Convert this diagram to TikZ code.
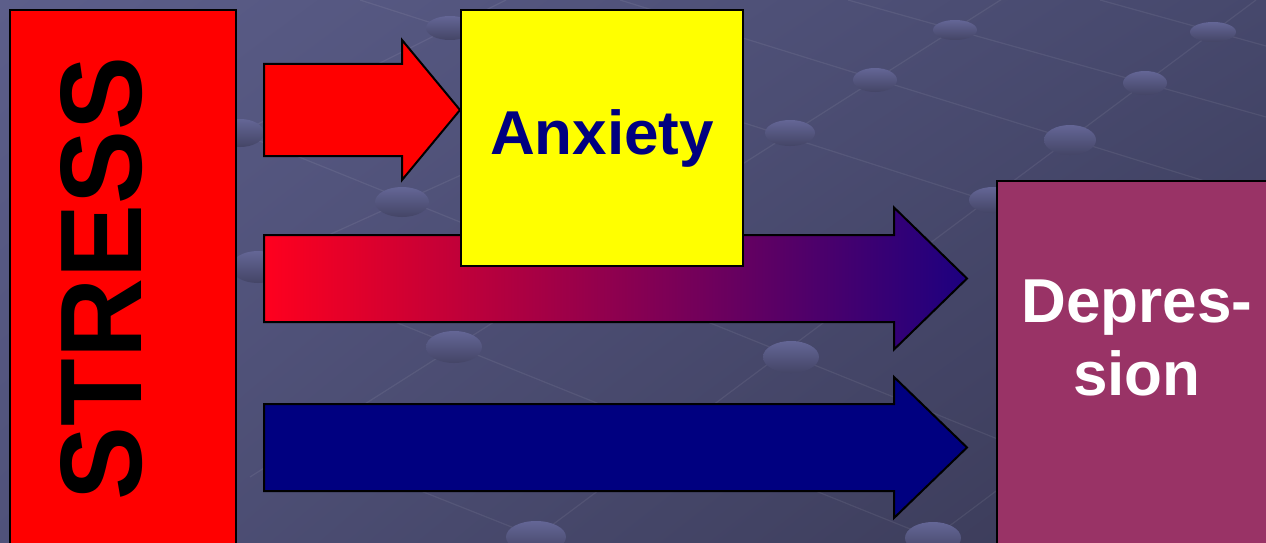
\documentclass[tikz,border=0pt]{standalone}
\usepackage{fontspec}
\setmainfont{Liberation Sans}
\usepackage{tikz}
\usetikzlibrary{positioning,calc,shadings}
\definecolor{bgTL}{RGB}{92,94,138}
\definecolor{bgTR}{RGB}{70,72,108}
\definecolor{bgBL}{RGB}{80,82,122}
\definecolor{bgBR}{RGB}{56,56,84}
\definecolor{beadHi}{RGB}{100,102,150}
\definecolor{beadLo}{RGB}{68,69,102}
\definecolor{navyA}{RGB}{0,0,128}
\definecolor{yelA}{RGB}{255,255,0}
\definecolor{redA}{RGB}{255,0,0}
\definecolor{depFill}{RGB}{153,51,102}
\definecolor{midL}{RGB}{255,0,30}
\definecolor{midR}{RGB}{28,0,128}

% block arrow: [style]{tail}{tip}{shaft half}{head half}{head length}
\newcommand{\fatarrow}[6][]{%
  \path[fatline,#1] ($(#2)+(0,-#4)$) -- ($(#3)+(-#6,-#4)$) -- ($(#3)+(-#6,-#5)$) -- (#3)
    -- ($(#3)+(-#6,#5)$) -- ($(#3)+(-#6,#4)$) -- ($(#2)+(0,#4)$) -- cycle;}

\begin{document}
\begin{tikzpicture}[x=1pt, y=-1pt,
  box/.style={draw=black, line width=2pt, inner sep=0pt},
  fatline/.style={draw=black, line width=2pt, line join=miter},
  gridline/.style={white, opacity=0.07, line width=1.2pt},
  bead/.style={top color=beadHi, bottom color=beadLo},
  biglbl/.style={font=\fontsize{62}{73}\selectfont\bfseries, inner sep=0pt}]
  \useasboundingbox (0,0) rectangle (1266,543);
  \clip (0,0) rectangle (1266,543);

  % backdrop
  \shade[upper left=bgTL, upper right=bgTR, lower left=bgBL, lower right=bgBR] (0,0) rectangle (1266,543);
  \foreach \ax/\ay/\bx/\by in {250/477/1010/-6, 520/549/1256/0, 200/153/506/0, 236/277/470/171,
      920/548/1266/289, 200/117/1000/440, 236/258/950/545, 360/0/1266/290,
      620/0/1266/200, 848/0/1266/117, 1100/0/1266/46, 300/443/552/543}
    \draw[gridline] (\ax,\ay) -- (\bx,\by);
  \foreach \px/\py/\rx/\ry in {240/133/24/14, 258/267/27/16, 402/202/27/15, 454/347/28/16,
      450/28/24/12, 536/537/30/16, 790/133/25/13, 791/357/28/16, 875/80/22/12,
      933/538/28/16, 955/30/22/10, 993/200/24/13, 1070/140/26/15, 1145/83/22/12, 1213/32/23/10}
    \shade[bead] (\px,\py) ellipse [x radius=\rx, y radius=\ry];

  % boxes
  \node[box, fill=redA, minimum width=226pt, minimum height=560pt] (stress) at (123,290) {};
  \node[biglbl, font=\fontsize{116}{116}\selectfont\bfseries, rotate=90, xscale=0.955] (stresstxt) at (101.5,278.5) {STRESS};
  \node[box, fill=depFill, minimum width=293pt, minimum height=400pt] (dep) at (1143.5,381) {};
  \node[biglbl, text=white, align=center] (deptxt) at (1137,338) {Depres-\\sion};

  % arrows to depression
  \coordinate (a2s) at (264,278.5);
  \coordinate (a2e) at ($(dep.west |- a2s)+(-29,0)$);
  \coordinate (a3s) at (264,447.5);
  \coordinate (a3e) at ($(dep.west |- a3s)+(-29,0)$);
  \fatarrow[left color=midL, right color=midR]{a2s}{a2e}{43.5}{71}{73}
  \fatarrow[fill=navyA]{a3s}{a3e}{43.5}{70.5}{73}

  % anxiety
  \node[box, fill=yelA, minimum width=282pt, minimum height=255pt, biglbl, text=navyA] (anx) at (602,138) {Anxiety};
  \coordinate (a1s) at (264,110);
  \coordinate (a1e) at (anx.west |- a1s);
  \fatarrow[fill=redA]{a1s}{a1e}{46}{70}{58}
\end{tikzpicture}
\end{document}
